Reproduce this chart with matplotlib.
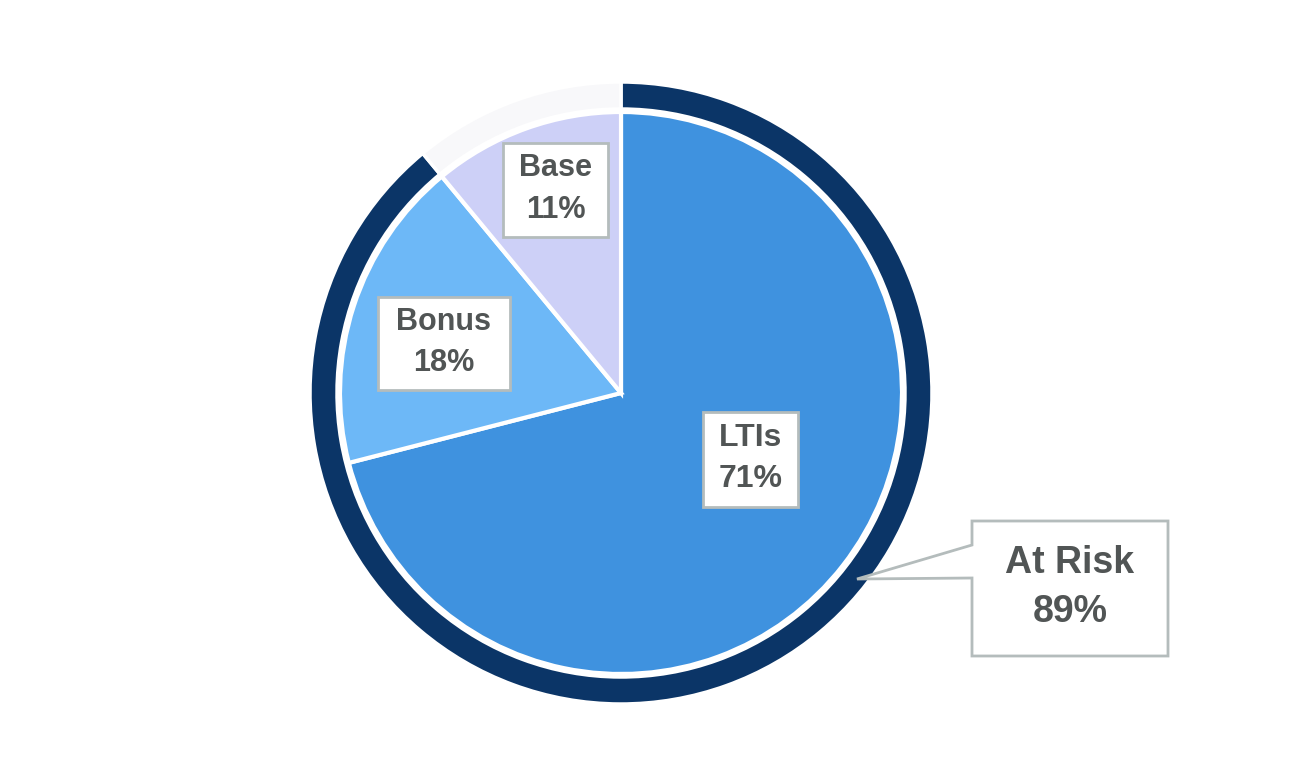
import matplotlib
matplotlib.use("Agg")
import matplotlib.pyplot as plt
from matplotlib.patches import Rectangle, Polygon

# data
labels = ["LTIs", "Bonus", "Base"]
values = [71, 18, 11]
colors = ["#3f92df", "#6db8f7", "#cdd0f7"]
ring_label = "At Risk"
ring_values = [89, 11]
ring_colors = ["#0b3567", "#f8f8fa"]

plt.rcParams['font.family'] = ['Liberation Sans', 'DejaVu Sans']

fig = plt.figure(figsize=(12.94, 7.6), dpi=100)
ax = fig.add_axes([0, 0, 1, 1])

H = 760
cx, cy = 621, H - 393

# outer ring
ax.pie(ring_values, colors=ring_colors, startangle=90, counterclock=False,
       center=(cx, cy), radius=311, frame=True,
       wedgeprops=dict(width=27, edgecolor='white', linewidth=2.5))
# main pie
ax.pie(values, colors=colors, startangle=90, counterclock=False,
       center=(cx, cy), radius=281, frame=True,
       wedgeprops=dict(edgecolor='white', linewidth=3))
ax.set_xlim(0, 1294)
ax.set_ylim(0, 760)
ax.set_aspect('equal')
ax.axis('off')

txt = '#515555'
edge = '#b4bcbc'

# label boxes (x0, y0, x1, y1 in pixel coords from top), font size
boxes = [(703, 412, 798, 507, 23), (378, 297, 510, 390, 22), (503, 143, 608, 237, 22)]
for (x0, y0, x1, y1, fs), lab, v in zip(boxes, labels, values):
    ax.add_patch(Rectangle((x0, H - y1), x1 - x0, y1 - y0, facecolor='white',
                           edgecolor=edge, linewidth=2, zorder=5))
    ax.text((x0 + x1) / 2, H - (y0 + y1) / 2 + 1, f"{lab}\n{v}%", ha='center', va='center',
            fontsize=fs, fontweight='bold', color=txt, linespacing=1.5, zorder=6)

# callout for ring
bx0, by0, bx1, by1 = 972, 521, 1168, 656
ax.add_patch(Polygon([(bx0, H - by0), (bx1, H - by0), (bx1, H - by1), (bx0, H - by1),
                      (bx0, H - 578), (857, H - 579), (bx0, H - 545)],
                     closed=True, facecolor='white', edgecolor=edge, linewidth=2, zorder=5))
ax.text((bx0 + bx1) / 2, H - (by0 + by1) / 2 + 1, f"{ring_label}\n{ring_values[0]}%",
        ha='center', va='center', fontsize=27, color=txt, fontweight='bold',
        linespacing=1.45, zorder=6)

fig.savefig("out.png", dpi=100, facecolor='white')
